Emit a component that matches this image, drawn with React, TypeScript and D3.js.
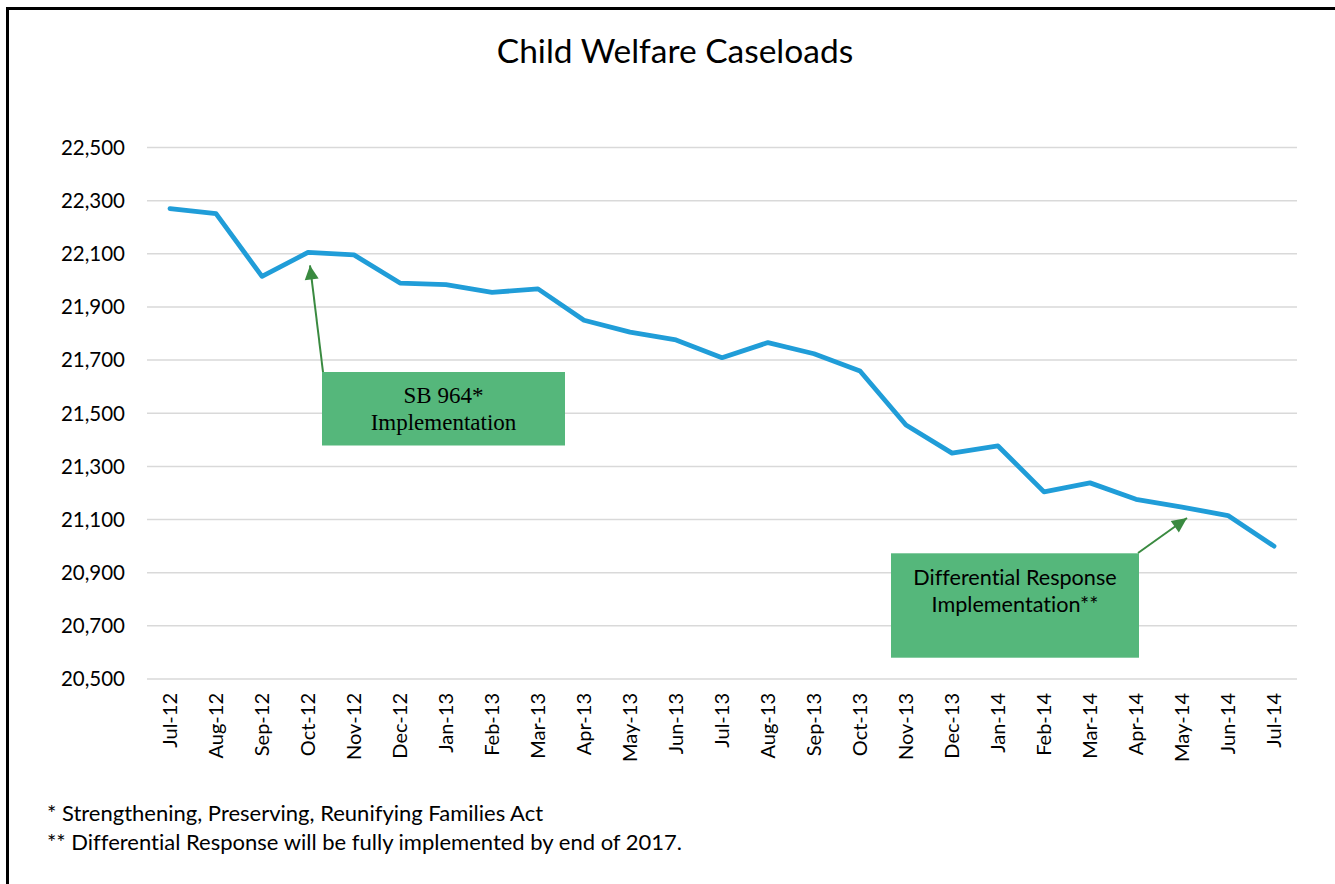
import React from "react";
import * as d3 from "d3";

const months = [
  "Jul-12", "Aug-12", "Sep-12", "Oct-12", "Nov-12", "Dec-12", "Jan-13", "Feb-13", "Mar-13",
  "Apr-13", "May-13", "Jun-13", "Jul-13", "Aug-13", "Sep-13", "Oct-13", "Nov-13", "Dec-13",
  "Jan-14", "Feb-14", "Mar-14", "Apr-14", "May-14", "Jun-14", "Jul-14",
];
const caseloads = [
  22270, 22251, 22015, 22105, 22096, 21990, 21984, 21955, 21968,
  21850, 21805, 21776, 21709, 21766, 21724, 21659, 21456, 21350,
  21377, 21204, 21238, 21176, 21147, 21115, 21000,
];
const yTicks = [20500, 20700, 20900, 21100, 21300, 21500, 21700, 21900, 22100, 22300, 22500];
const chartTitle = "Child Welfare Caseloads";
const footnotes = [
  "* Strengthening, Preserving, Reunifying Families Act",
  "** Differential Response will be fully implemented by end of 2017.",
];
const sbLines = ["SB 964*", "Implementation"];
const drLines = ["Differential Response", "Implementation**"];

const W = 1335;
const H = 884;
const SANS = "Lato, 'Open Sans', sans-serif";
const SERIF = "'Liberation Serif', 'Times New Roman', serif";
const LINE_COLOR = "#209DD8";
const GRID_COLOR = "#D9D9D9";
const BOX_FILL = "#55B77B";
const ARROW_COLOR = "#3A8A40";
const NOLIG = {
  fontVariantLigatures: "none" as const,
  fontFeatureSettings: '"liga" 0, "clig" 0, "dlig" 0, "calt" 0',
};

function arrowHead(x1: number, y1: number, x2: number, y2: number, len: number, half: number) {
  const dx = x2 - x1;
  const dy = y2 - y1;
  const d = Math.hypot(dx, dy);
  const ux = dx / d;
  const uy = dy / d;
  const bx = x2 - ux * len;
  const by = y2 - uy * len;
  const px = -uy;
  const py = ux;
  return `${x2},${y2} ${bx + px * half},${by + py * half} ${bx - px * half},${by - py * half}`;
}

export default function App() {
  const x = d3.scalePoint<string>().domain(months).range([147, 1297]).padding(0.5);
  const y = d3.scaleLinear().domain([20500, 22500]).range([679, 147.5]);

  const line = d3
    .line<number>()
    .x((_, i) => x(months[i]) as number)
    .y((d) => y(d));

  // annotation arrows (tips derived from the data points they point at)
  const sbIdx = months.indexOf("Oct-12");
  const sbTip = { x: (x(months[sbIdx]) as number) + 2, y: y(caseloads[sbIdx]) + 13 };
  const sbTail = { x: 323, y: 372 };
  const drIdx = months.indexOf("May-14");
  const drTip = { x: (x(months[drIdx]) as number) + 5, y: y(caseloads[drIdx]) + 11 };
  const drTail = { x: 1138, y: 553 };

  return (
    <div style={{ position: "absolute", left: 0, top: 0, width: W, height: H, background: "#fff" }}>
      <svg width={W} height={H} style={{ display: "block" }}>
        <rect x={0} y={0} width={W} height={H} fill="#fff" />
        {/* frame */}
        <line x1={6} x2={W} y1={8.5} y2={8.5} stroke="#000" strokeWidth={3} />
        <line x1={7.5} x2={7.5} y1={7} y2={H} stroke="#000" strokeWidth={3} />

        <text x={675} y={62.5} textAnchor="middle" fontFamily={SANS} fontSize={33.5} fill="#000">
          {chartTitle}
        </text>

        {/* grid + y ticks */}
        {yTicks.map((t) => (
          <g key={t}>
            <line x1={147} x2={1297} y1={y(t)} y2={y(t)} stroke={GRID_COLOR} strokeWidth={1.5} />
            <text
              x={125}
              y={y(t) + 7.3}
              textAnchor="end"
              fontFamily={SANS}
              fontSize={20.5}
              fill="#000"
            >
              {d3.format(",")(t)}
            </text>
          </g>
        ))}

        {/* x labels */}
        {months.map((m) => (
          <text
            key={m}
            transform={`translate(${(x(m) as number) + 7},693) rotate(-90)`}
            textAnchor="end"
            fontFamily={SANS}
            fontSize={20}
            fill="#000"
          >
            {m}
          </text>
        ))}

        {/* data line */}
        <path
          d={line(caseloads) || ""}
          fill="none"
          stroke={LINE_COLOR}
          strokeWidth={4.8}
          strokeLinejoin="round"
          strokeLinecap="round"
        />

        {/* SB 964 annotation */}
        <rect x={322} y={372} width={243} height={73.5} fill={BOX_FILL} />
        {sbLines.map((s, i) => (
          <text
            key={s}
            x={443.5}
            y={403.3 + i * 26.7}
            textAnchor="middle"
            fontFamily={SERIF}
            fontSize={23}
            fill="#000"
          >
            {s}
          </text>
        ))}
        <line x1={sbTail.x} y1={sbTail.y} x2={sbTip.x} y2={sbTip.y} stroke={ARROW_COLOR} strokeWidth={2} />
        <polygon points={arrowHead(sbTail.x, sbTail.y, sbTip.x, sbTip.y, 14, 7)} fill={ARROW_COLOR} />

        {/* Differential Response annotation */}
        <rect x={891} y={553.3} width={248} height={104.4} fill={BOX_FILL} />
        {drLines.map((s, i) => (
          <text
            key={s}
            x={1015}
            y={585 + i * 27.3}
            textAnchor="middle"
            fontFamily={SANS}
            fontSize={21.6}
            fill="#000"
            style={NOLIG}
          >
            {s}
          </text>
        ))}
        <line x1={drTail.x} y1={drTail.y} x2={drTip.x} y2={drTip.y} stroke={ARROW_COLOR} strokeWidth={2} />
        <polygon points={arrowHead(drTail.x, drTail.y, drTip.x, drTip.y, 15, 7)} fill={ARROW_COLOR} />

        {/* footnotes */}
        {footnotes.map((f, i) => (
          <text key={f} x={47} y={821 + i * 28.5} fontFamily={SANS} fontSize={22} fill="#000" style={NOLIG}>
            {f}
          </text>
        ))}
      </svg>
    </div>
  );
}
